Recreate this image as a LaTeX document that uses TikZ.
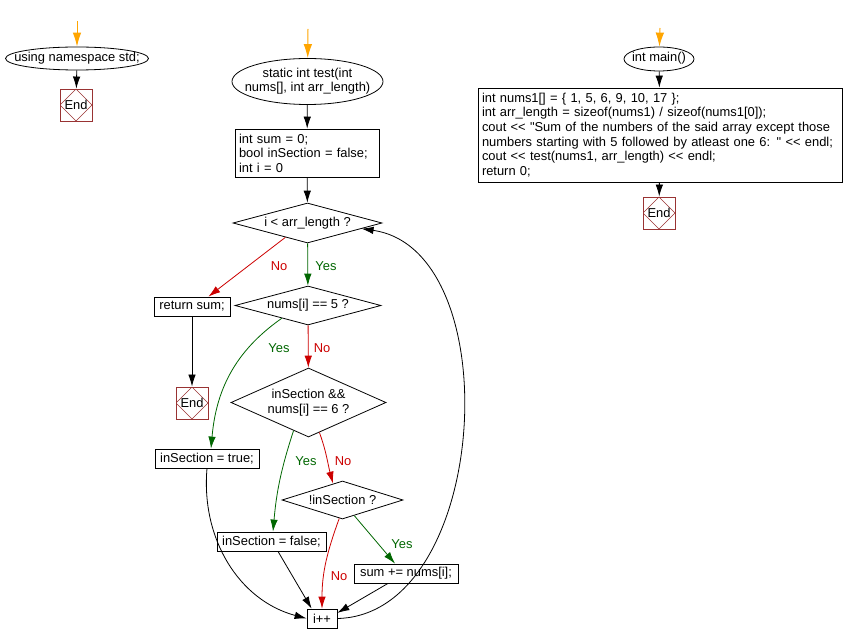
\documentclass[tikz,border=0pt]{standalone}
\usepackage{fontspec}
\newfontfamily\flowfont{Liberation Sans}
\usetikzlibrary{shapes.geometric,arrows.meta}
\definecolor{endred}{RGB}{153,51,51}
\definecolor{yesgreen}{RGB}{0,102,0}
\definecolor{nored}{RGB}{204,0,0}
\definecolor{startorange}{RGB}{255,165,0}
\newcommand\squeeze[1]{\makebox[0pt]{\begin{tabular}{@{}c@{}}#1\end{tabular}}}

\begin{document}
\begin{tikzpicture}[x=1pt,y=-1pt]\fontsize{12.9}{14.6}\flowfont
\tikzset{every node/.style={inner sep=0pt}}
\tikzset{flow/.style={black,line width=0.8pt,-{Latex[length=12pt,width=7.5pt]}}}
\tikzset{startflow/.style={startorange,line width=1pt,-{Latex[length=14pt,width=8.5pt]}}}
\tikzset{yesflow/.style={flow,yesgreen}}
\tikzset{noflow/.style={flow,nored}}
\tikzset{terminal/.style={draw,ellipse,line width=0.8pt}}
\tikzset{stmt/.style={draw,rectangle,line width=0.8pt,minimum height=19pt,inner xsep=4pt}}
\tikzset{decision/.style={draw,diamond,line width=0.8pt}}
\tikzset{yeslabel/.style={text=yesgreen}}
\tikzset{nolabel/.style={text=nored}}
\tikzset{endbox/.style={draw=endred,line width=0.9pt,minimum size=32pt,
  path picture={\draw[endred,line width=0.5pt] (path picture bounding box.north) -- (path picture bounding box.east)
    -- (path picture bounding box.south) -- (path picture bounding box.west) -- cycle;}}}
\useasboundingbox (0,0) rectangle (843,644);

% using namespace
\coordinate (in1) at (77,21);
\node[terminal,minimum width=143pt,minimum height=23pt] (ns) at (77,58.5) {\squeeze{using namespace std;}};
\node[endbox] (end1) at (76,105) {End};
\draw[startflow] (in1) -- (ns);
\draw[flow] (ns) -- (end1);

% test()
\coordinate (in2) at (308,29);
\node[terminal,minimum width=151pt,minimum height=46pt] (test) at (307.5,81.5) {\squeeze{static int test(int\\nums[], int arr\_length)}};
\node[stmt,align=left,text width=136pt,minimum height=48pt] (init) at (307,153) {int sum = 0;\\bool inSection = false;\\int i = 0};
\node[decision,aspect=3.7,minimum width=149pt,minimum height=40pt] (chk) at (307.5,223) {i < arr\_length ?};
\node[stmt,minimum width=76pt] (ret) at (192,306.5) {return sum;};
\node[endbox] (end2) at (192,403) {End};
\node[decision,aspect=3.7,minimum width=146pt,minimum height=39pt] (five) at (308,305.5) {nums[i] == 5 ?};
\node[decision,aspect=2.2,minimum width=155pt,minimum height=69pt,align=center] (six) at (308.5,402.5) {inSection \&\&\\nums[i] == 6 ?};
\node[stmt,minimum width=104pt] (on) at (207,458.5) {inSection = true;};
\node[stmt,minimum width=109pt] (off) at (271.5,541.5) {inSection = false;};
\node[decision,aspect=3.2,minimum width=121pt,minimum height=38pt] (out) at (342.5,500) {!inSection ?};
\node[stmt,minimum width=104pt] (add) at (406,573.5) {sum += nums[i];};
\node[stmt,minimum width=30pt] (inc) at (322,618.5) {i++};

\node[nolabel] (no1) at (279,266) {No};
\node[yeslabel] (yes1) at (326,266) {Yes};
\node[yeslabel] (yes2) at (279,348) {Yes};
\node[nolabel] (no2) at (322,348) {No};
\node[yeslabel] (yes3) at (306,461) {Yes};
\node[nolabel] (no3) at (343,461) {No};
\node[yeslabel] (yes4) at (402,544) {Yes};
\node[nolabel] (no4) at (339,576) {No};

\draw[startflow] (in2) -- (test);
\draw[flow] (test) -- (init);
\draw[flow] (init) -- (chk);
\draw[noflow] (chk.213) -- ([xshift=-22pt]ret.north east);
\draw[flow] (ret) -- (end2);
\draw[yesflow] (chk) -- (five);
\draw[yesflow] (five.206) to[out=215,in=85] ([xshift=4pt]on.north);
\draw[noflow] (five) -- (six);
\draw[yesflow] (six.242) to[out=252,in=85] ([xshift=1.5pt]off.north);
\draw[noflow] (six.290) to[out=290,in=105] (out.120);
\draw[yesflow] (out.307) -- ([xshift=-11pt]add.north);
\draw[noflow] (out.260) to[out=250,in=90] (inc.north);
\draw[flow] (on.south) to[out=265,in=165] (inc.west);
\draw[flow] ([xshift=6.5pt]off.south) -- ([xshift=5pt]inc.north west);
\draw[flow] ([xshift=-18pt]add.south) -- (inc.20);
\draw[flow] (inc.east) .. controls (490,615) and (510,250) .. (chk.354);

% main()
\coordinate (in3) at (660,28);
\node[terminal,minimum width=70pt,minimum height=24pt] (main) at (659,59) {\squeeze{int main()}};
\node[stmt,align=left,text width=356pt,minimum height=94pt] (body) at (660,135) {int nums1[] = \{ 1, 5, 6, 9, 10, 17 \};\\int arr\_length = sizeof(nums1) / sizeof(nums1[0]);\\cout << "Sum of the numbers of the said array except those\\numbers starting with 5 followed by atleast one 6: " << endl;\\cout << test(nums1, arr\_length) << endl;\\return 0;};
\node[endbox] (end3) at (659,213) {End};
\draw[startflow] (in3) -- (main);
\draw[flow] (main) -- (body);
\draw[flow] (body) -- (end3);
\end{tikzpicture}
\end{document}
